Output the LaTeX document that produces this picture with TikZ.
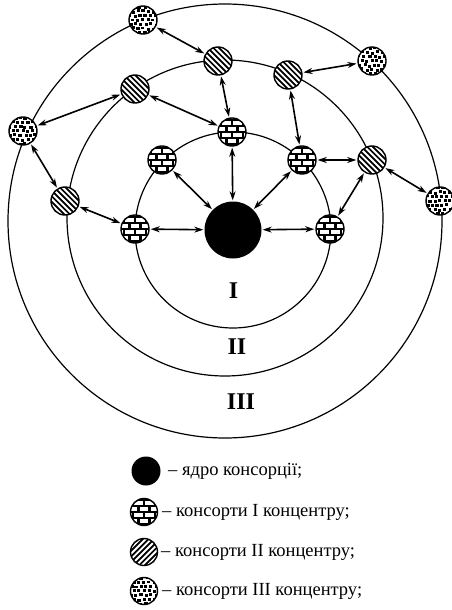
\documentclass[tikz,border=0pt]{standalone}
\usepackage{fontspec}
\setmainfont{Liberation Serif}
\usetikzlibrary{arrows.meta}
\tikzset{
  ring/.style={draw, line width=1.2pt},
  link/.style={{Stealth[length=9pt,width=6pt]}-{Stealth[length=9pt,width=6pt]}, line width=1.6pt, shorten <=1pt, shorten >=1pt},
  coreball/.style={circle, fill=black, inner sep=0pt, minimum size=#1},
  coreball/.default=57pt,
  brickball/.style={circle, draw, line width=1.4pt, inner sep=0pt, minimum size=#1,
    path picture={
      \fill[black] (path picture bounding box.south west) rectangle (path picture bounding box.north east);
      \begin{scope}[shift={(path picture bounding box.center)}, x=1pt, y=1pt]
        \foreach \r in {-2,...,2}{
          \foreach \c in {-3,...,3}{
            \pgfmathsetmacro\off{mod(\r+10,2)*5.5}
            \fill[white] ({\c*11+\off-4.4},{\r*6+3-1.9}) rectangle ++(8.8,3.8);
          }}
      \end{scope}}},
  brickball/.default=28pt,
  stripeball/.style={circle, draw, line width=1.4pt, inner sep=0pt, minimum size=28pt,
    path picture={
      \fill[black] (path picture bounding box.south west) rectangle (path picture bounding box.north east);
      \begin{scope}[shift={(path picture bounding box.center)}, x=1pt, y=1pt]
        \foreach \k in {-9,...,9}
          \draw[white, line width=1.9pt] ({\k*5.66-20},{20*(#1)}) -- ({\k*5.66+20},{-20*(#1)});
      \end{scope}}},
  stripeball/.default=1,
  dotball/.style={circle, draw, fill=white, line width=1.4pt, inner sep=0pt, minimum size=#1,
    path picture={
      \begin{scope}[shift={(path picture bounding box.center)}, x=1pt, y=1pt]
        \foreach \r in {-4,...,4}{
          \foreach \c in {-4,...,4}{
            \pgfmathsetmacro\offx{mod(\r+10,2)*2.5+rand*0.9}
            \pgfmathsetmacro\offy{rand*0.8}
            \fill[black] ({\c*5+\offx-1.6},{\r*4.3+\offy-1.5}) rectangle ++(3.2,2.9);
          }}
      \end{scope}}},
  dotball/.default=28pt,
  numeral/.style={font=\fontsize{24}{26}\selectfont\bfseries},
  legtext/.style={anchor=west, inner sep=0pt, font=\fontsize{18.5}{20}\selectfont}
}
\begin{document}
\begin{tikzpicture}[x=1pt, y=-1pt]
\pgfmathsetseed{7}
\useasboundingbox (0,0) rectangle (452,610);
\fill[white] (0,0) rectangle (452,610);

% concentric rings
\draw[ring] (225,221) circle[radius=217];
\draw[ring] (225,218) circle[radius=158];
\draw[ring] (233,230) circle[radius=98];

% core
\node[coreball] (core) at (233,230) {};

% concentre I
\node[brickball] (ia) at (232,132) {};
\node[brickball] (ib) at (162,160) {};
\node[brickball] (ic) at (302,160) {};
\node[brickball] (id) at (135,229) {};
\node[brickball] (ie) at (330,229) {};

% concentre II
\node[stripeball] (iia) at (218,61) {};
\node[stripeball] (iib) at (135,89) {};
\node[stripeball] (iic) at (288,75) {};
\node[stripeball] (iid) at (65,201) {};
\node[stripeball] (iie) at (372,160) {};

% concentre III
\node[dotball] (iiia) at (143,20) {};
\node[dotball] (iiib) at (372,61) {};
\node[dotball] (iiic) at (23,131) {};
\node[dotball] (iiid) at (440,201) {};

% links
\draw[link] (core) -- (ia);
\draw[link] (core) -- (ib);
\draw[link] (core) -- (ic);
\draw[link] (core) -- (id);
\draw[link] (core) -- (ie);
\draw[link] (ia) -- (iia);
\draw[link] (ia) -- (iib);
\draw[link] (ic) -- (iic);
\draw[link] (ic) -- (iie);
\draw[link] (ie) -- (iie);
\draw[link] (id) -- (iid);
\draw[link] (iia) -- (iiia);
\draw[link] (iib) -- (iiic);
\draw[link] (iic) -- (iiib);
\draw[link] (iid) -- (iiic);
\draw[link] (iie) -- (iiid);

% numerals
\node[numeral] (nI) at (233.5,291) {I};
\node[numeral] (nII) at (237,347) {II};
\node[numeral] (nIII) at (241,402) {III};

% legend
\node[coreball=29pt] (l0) at (146,471) {};
\node[brickball=27pt] (l1) at (144,512) {};
\node[stripeball=-1, minimum size=27pt] (l2) at (144,552) {};
\node[dotball=27pt] (l3) at (144,591) {};
\node[legtext] (t0) at (168,471) {– ядро консорції;};
\node[legtext] (t1) at (162,512) {– консорти I концентру;};
\node[legtext] (t2) at (161,552) {– консорти II концентру;};
\node[legtext] (t3) at (162,591) {– консорти III концентру;};
\end{tikzpicture}
\end{document}
